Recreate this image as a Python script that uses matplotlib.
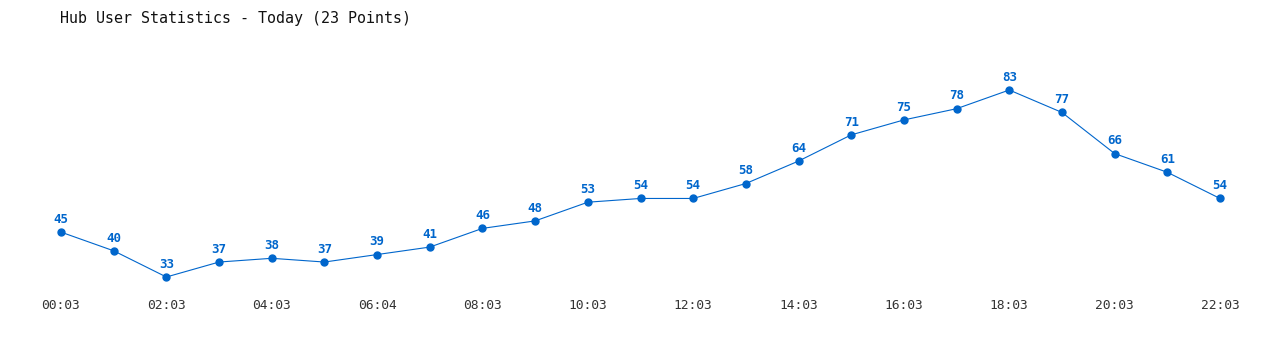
import matplotlib.pyplot as plt

times = ["00:03", "01:03", "02:03", "03:03", "04:03", "05:03", "06:04", "07:03",
         "08:03", "09:03", "10:03", "11:03", "12:03", "13:03", "14:03", "15:03",
         "16:03", "17:03", "18:03", "19:03", "20:03", "21:03", "22:03"]
users = [45, 40, 33, 37, 38, 37, 39, 41, 46, 48, 53, 54, 54, 58, 64, 71, 75, 78,
         83, 77, 66, 61, 54]

blue = '#0066cc'
W, H = 1280, 350

fig = plt.figure(figsize=(W / 100, H / 100), dpi=100)
# axes box spans exactly from first to last point, min to max value
ax = fig.add_axes([61 / W, 1 - 277 / H, (1220 - 61) / W, (277 - 90) / H])

x = list(range(len(users)))
ax.plot(x, users, color=blue, lw=0.8, marker='o', ms=5, clip_on=False)
for i, v in enumerate(users):
    ax.annotate(str(v), (i, v), xytext=(0, 4.5), textcoords='offset points',
                ha='center', va='bottom', color=blue, fontsize=9,
                fontweight='bold', family='DejaVu Sans Mono')

ax.set_xlim(0, len(users) - 1)
ax.set_ylim(min(users), max(users))
ax.set_xticks(x[::2])
ax.set_xticklabels(times[::2], family='DejaVu Sans Mono', fontsize=9.3, color='#333333')
ax.tick_params(axis='x', length=0, pad=16)
ax.set_yticks([])
for s in ax.spines.values():
    s.set_visible(False)

fig.text(60 / W, 1 - 18 / H, "Hub User Statistics - Today (23 Points)",
         family='DejaVu Sans Mono', fontsize=10.8, color='#111111', va='center')

fig.savefig('out.png', dpi=100)
